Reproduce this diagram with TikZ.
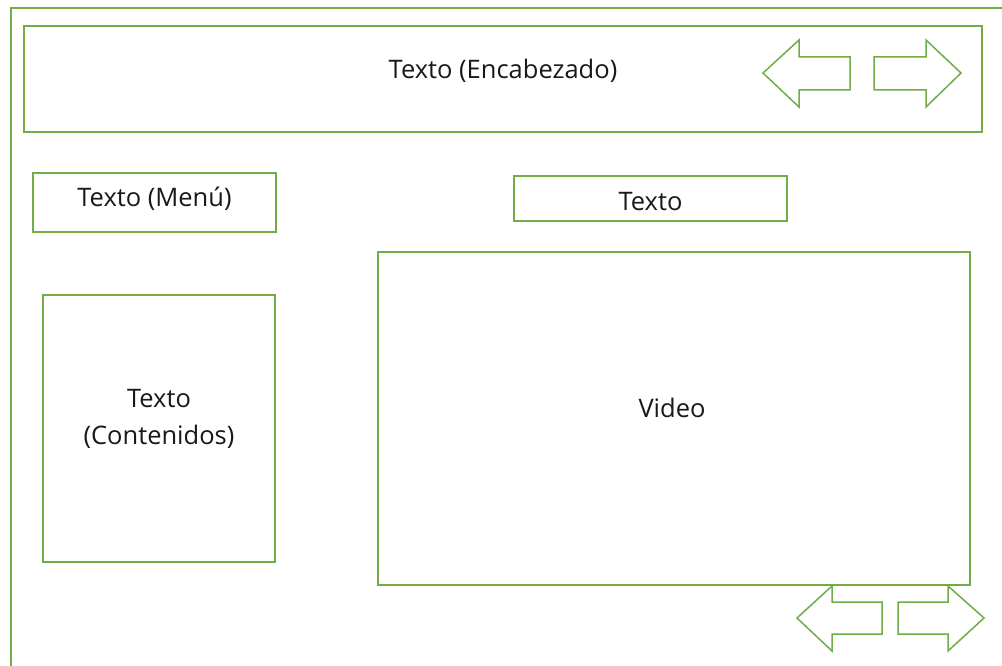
\documentclass[tikz,border=0pt]{standalone}
\usepackage{fontspec}
\setmainfont{Open Sans}
\definecolor{ogreen}{RGB}{112,173,71}
\begin{document}
\begin{tikzpicture}[x=1pt,y=-1pt,
  box/.style={draw=ogreen,line width=1.5pt},
  lbl/.style={font=\fontsize{25.5}{37}\selectfont,text=black!90,align=center},
  arr/.style={draw=ogreen,line width=1.5pt,line join=miter}]
\useasboundingbox (0,0) rectangle (1002,666);
\fill[white] (0,0) rectangle (1002,666);
% outer frame (runs off right and bottom)
\draw[box] (11,670) -- (11,8) -- (1006,8);
% header
\node[box,minimum width=958pt,minimum height=106pt,inner sep=0pt] (header) at (503,79) {};
\node[lbl] (headertxt) at (503,71) {Texto (Encabezado)};
% top arrows
\draw[arr] (763,73) -- (799,40) -- (799,57) -- (850,57) -- (850,90) -- (799,90) -- (799,107) -- cycle;
\draw[arr] (961,73) -- (926,40) -- (926,57) -- (874,57) -- (874,90) -- (926,90) -- (926,107) -- cycle;
% menu
\node[box,minimum width=243pt,minimum height=59pt,inner sep=0pt] (menu) at (154.5,202.5) {};
\node[lbl] at (154.5,199) {Texto (Menú)};
% texto
\node[box,minimum width=273pt,minimum height=45pt,inner sep=0pt] (texto) at (650.5,198.5) {};
\node[lbl] at (650.5,202) {Texto};
% contenidos
\node[box,minimum width=232pt,minimum height=267pt,inner sep=0pt] (cont) at (159,428.5) {};
\node[lbl] at (159,419) {Texto\\(Contenidos)};
% video
\node[box,minimum width=592pt,minimum height=333pt,inner sep=0pt] (video) at (674,418.5) {};
\node[lbl] at (672,408) {Video};
% bottom arrows
\draw[arr] (797,618) -- (832,586) -- (832,602) -- (882,602) -- (882,634) -- (832,634) -- (832,651) -- cycle;
\draw[arr] (984,618) -- (948,586) -- (948,602) -- (898,602) -- (898,634) -- (948,634) -- (948,651) -- cycle;
\end{tikzpicture}
\end{document}
